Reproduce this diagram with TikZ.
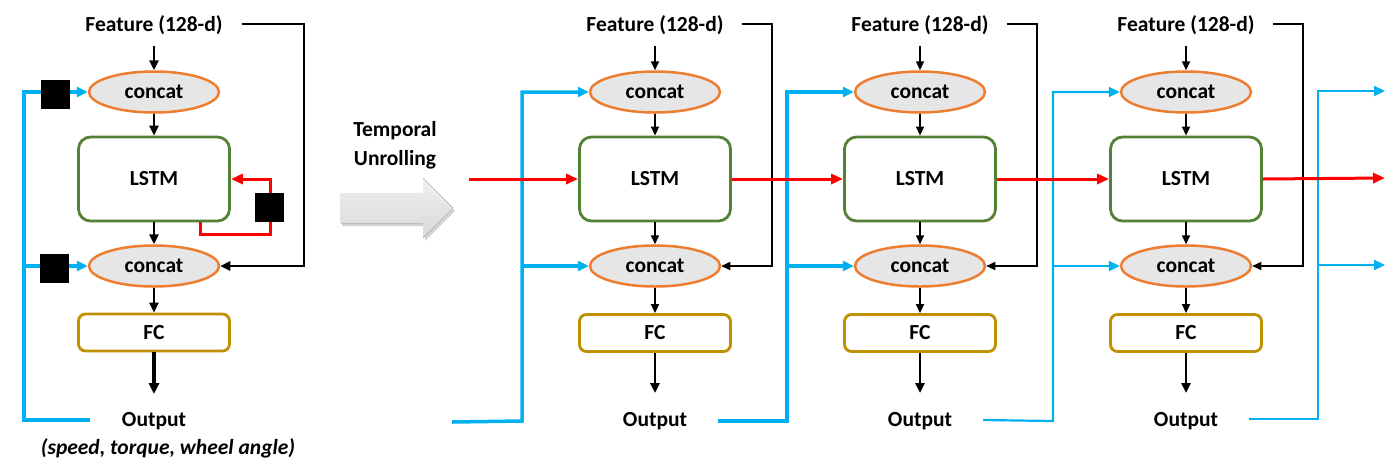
\documentclass[tikz,border=0pt]{standalone}
\usepackage{fontspec}
\setmainfont{Carlito}
\usetikzlibrary{shapes.geometric,arrows.meta,shadows,calc}
\definecolor{cblue}{HTML}{00B0F0}
\definecolor{cred}{HTML}{FF0000}
\definecolor{corange}{HTML}{ED7D31}
\definecolor{cgrayf}{HTML}{E7E6E6}
\definecolor{cgreen}{HTML}{548235}
\definecolor{cgold}{HTML}{BF9000}
\begin{document}
\begin{tikzpicture}[x=1pt,y=-1pt,
  lbl/.style={font=\fontsize{21.5}{26}\selectfont\bfseries, inner sep=0pt},
  cat/.style={ellipse, draw=corange, fill=cgrayf, line width=2.5pt, minimum width=130pt, minimum height=41pt, inner sep=0pt, font=\fontsize{21.5}{26}\selectfont\bfseries},
  lstmbox/.style={draw=cgreen, line width=2.8pt, rounded corners=12pt, minimum width=151pt, minimum height=84pt, inner sep=0pt, fill=white, font=\fontsize{21.5}{26}\selectfont\bfseries},
  fcbox/.style={draw=cgold, line width=2.8pt, rounded corners=7pt, minimum width=151pt, minimum height=37pt, inner sep=0pt, fill=white, font=\fontsize{21.5}{26}\selectfont\bfseries},
  sqbox/.style={fill=black, minimum size=29pt, inner sep=0pt},
  kthin/.style={line width=1.6pt, -{Triangle[length=9pt,width=8pt]}},
  kthick/.style={line width=2.6pt, -{Triangle[length=10pt,width=9pt]}},
  bthick/.style={draw=cblue, line width=3.5pt},
  bthin/.style={draw=cblue, line width=2.2pt},
  btip/.style={-{Triangle[length=11pt,width=10pt]}},
  rline/.style={draw=cred, line width=3pt, -{Triangle[length=12pt,width=10pt]}},
]
\useasboundingbox (0,0) rectangle (1396,467);

% ---------------- folded model (left) ----------------
\node[lbl] (F0) at (154,25) {Feature (128-d)};
\node[cat] (A0) at (154,92) {concat};
\node[lstmbox] (L0) at (154,179) {LSTM};
\node[cat] (B0) at (154,266) {concat};
\node[fcbox] (P0) at (154,332.5) {FC};
\node[lbl] (O0) at (154,421) {Output};
\node[font=\fontsize{21.5}{26}\selectfont\bfseries\itshape, inner sep=0pt] (S0) at (168,448) {(speed, torque, wheel angle)};
\coordinate (oend0) at (154,394);

\draw[kthick] ($(F0.south)+(0,11)$) -- (A0.north);
\draw[kthick] (A0) -- (L0);
\draw[kthick] (L0) -- (B0);
\draw[kthick] (B0) -- (P0);
\draw[line width=3.2pt, -{Triangle[length=11pt,width=10pt]}] (P0) -- (oend0);

% blue feedback
\coordinate (bs0) at (90,420);
\coordinate (bc0) at (24,420);
\draw[bthick, btip] (bs0) -- (bc0) |- (A0.west);
\draw[bthick, btip] (bc0 |- B0.west) -- (B0.west);

% black feedback
\coordinate (k0) at (304,24);
\draw[kthick] ($(F0.east)+(19,-1)$) -- (k0) |- (B0.east);

% red recurrence
\coordinate (r0) at (270,234);
\draw[rline] ($(L0.south east)+(-30,0)$) |- (r0) |- (L0.east);

% delay squares
\node[sqbox] (Q1) at (55.5,94) {};
\node[sqbox] (Q2) at (54,268.5) {};
\node[sqbox] (Q3) at (269.5,207) {};

% ---------------- temporal unrolling ----------------
\node[font=\fontsize{21.5}{29}\selectfont\bfseries, align=center, inner sep=0pt] (T) at (395,145) {Temporal\\Unrolling};
\fill[top color=gray!12, bottom color=gray!30, drop shadow={shadow xshift=2pt, shadow yshift=-3pt, opacity=0.35}]
  (340,193) -- (423,193) -- (423,178) -- (453,208) -- (423,238) -- (423,223) -- (340,223) -- cycle;

% ---------------- unrolled copies ----------------
\foreach \i/\cx in {1/655,2/920,3/1186}{
  \node[lbl] (F\i) at (\cx,25) {Feature (128-d)};
  \node[cat] (A\i) at (\cx,92) {concat};
  \node[lstmbox] (L\i) at (\cx,179) {LSTM};
  \node[cat] (B\i) at (\cx,266) {concat};
  \node[fcbox] (P\i) at (\cx,333) {FC};
  \node[lbl] (O\i) at (\cx,421) {Output};
  \coordinate (oe\i) at (\cx,393);
  \coordinate (k\i) at (\cx+117,24);
  \coordinate (bv\i) at (\cx-133,421);
  \draw[kthin] ($(F\i.south)+(0,11)$) -- (A\i.north);
  \draw[kthin] (A\i) -- (L\i);
  \draw[kthin] (L\i) -- (B\i);
  \draw[kthin] (B\i) -- (P\i);
  \draw[line width=2.6pt, -{Triangle[length=10pt,width=9pt]}] (P\i) -- (oe\i);
  \draw[line width=1.6pt, -{Triangle[length=9pt,width=8pt]}] ($(F\i.east)+(18,-1)$) -- (k\i) |- (B\i.east);
}

% blue links between copies
\coordinate (bin) at (452,422);
\draw[bthick, btip] (bin) -- (bv1) |- (A1.west);
\draw[bthick, btip] (bv1 |- B1.west) -- (B1.west);
\draw[bthick, btip] ($(O1.east)+(31,0)$) -- (bv2) |- (A2.west);
\draw[bthick, btip] (bv2 |- B2.west) -- (B2.west);
\draw[bthin, btip] ($(O2.east)+(31,-1)$) -- (bv3) |- (A3.west);
\draw[bthin, btip] (bv3 |- B3.west) -- (B3.west);
\coordinate (bv4) at (1318,419);
\coordinate (bo1) at (1385,91);
\coordinate (bo2) at (1385,265);
\draw[bthin, btip] ($(O3.east)+(31,-2)$) -- (bv4) |- (bo1);
\draw[bthin, btip] (bv4 |- bo2) -- (bo2);

% red links between copies
\coordinate (rin) at (469,179);
\coordinate (rout) at (1385,178);
\draw[rline] (rin) -- (L1.west);
\draw[rline] (L1.east) -- (L2.west);
\draw[rline] (L2.east) -- (L3.west);
\draw[rline] (L3.east) -- (rout);
\end{tikzpicture}
\end{document}
